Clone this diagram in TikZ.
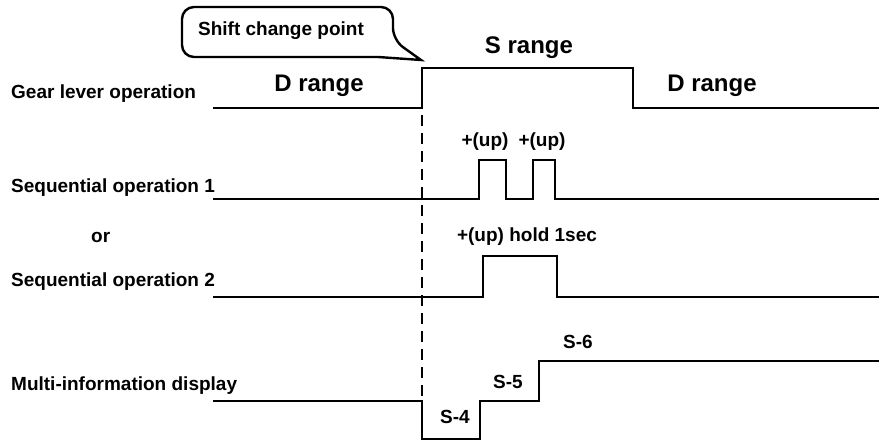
\documentclass[tikz,border=0pt]{standalone}
\usepackage{fontspec}
\setmainfont{Liberation Sans}
\begin{document}
\begin{tikzpicture}[x=1pt,y=-1pt,
  wave/.style={line width=2.8pt},
  txt/.style={inner sep=0pt,font=\fontsize{19}{19}\selectfont\bfseries},
  big/.style={inner sep=0pt,font=\fontsize{24}{24}\selectfont\bfseries}]
\useasboundingbox (0,0) rectangle (879,441);

% signal names
\node[txt,anchor=base west] (gear) at (11,99) {Gear lever operation};
\node[txt,anchor=base west] (seqa) at (11,193) {Sequential operation 1};
\node[txt,anchor=base west] (or) at (91,242) {or};
\node[txt,anchor=base west] (seqb) at (11,287) {Sequential operation 2};
\node[txt,anchor=base west] (mid) at (11,390) {Multi-information display};

% shift change point
\coordinate (sp) at (422,108);
\coordinate (spend) at (422,401);
\coordinate (tip) at (421,60);
\draw[line width=2.8pt,dash pattern=on 11pt off 7pt,dash phase=11pt] (sp) -- (spend);
\draw[line width=2.4pt,rounded corners=12pt] (182,32) |- (393,7) -- (393,40)
  [sharp corners] -- (tip) -- (378,57) [rounded corners=12pt] -| (182,32) -- cycle;
\node[txt,anchor=base] (call) at (281,36) {Shift change point};

% gear lever
\draw[wave] (213,108) -| (422,68) -| (633,108) -- (879,108);
\node[big,anchor=base] (dl) at (319,92) {D range};
\node[big,anchor=base] (sr) at (529,54) {S range};
\node[big,anchor=base] (dr) at (712,92) {D range};

% sequential 1
\draw[wave] (213,199) -| (479,160) -| (506,199) -| (533,160) -| (555,199) -- (879,199);
\node[txt,anchor=base] (upa) at (485,147) {+(up)};
\node[txt,anchor=base] (upb) at (542,147) {+(up)};

% sequential 2
\draw[wave] (213,297) -| (483,256) -| (557,297) -- (879,297);
\node[txt,anchor=base] (hold) at (527,241) {+(up) hold 1sec};

% display
\draw[wave] (213,401) -| (422,439) -| (480,401) -| (539,361) -- (879,361);
\node[txt,anchor=base] (sfour) at (455,423) {S-4};
\node[txt,anchor=base] (sfive) at (508,388) {S-5};
\node[txt,anchor=base] (ssix) at (578,348) {S-6};
\end{tikzpicture}
\end{document}
